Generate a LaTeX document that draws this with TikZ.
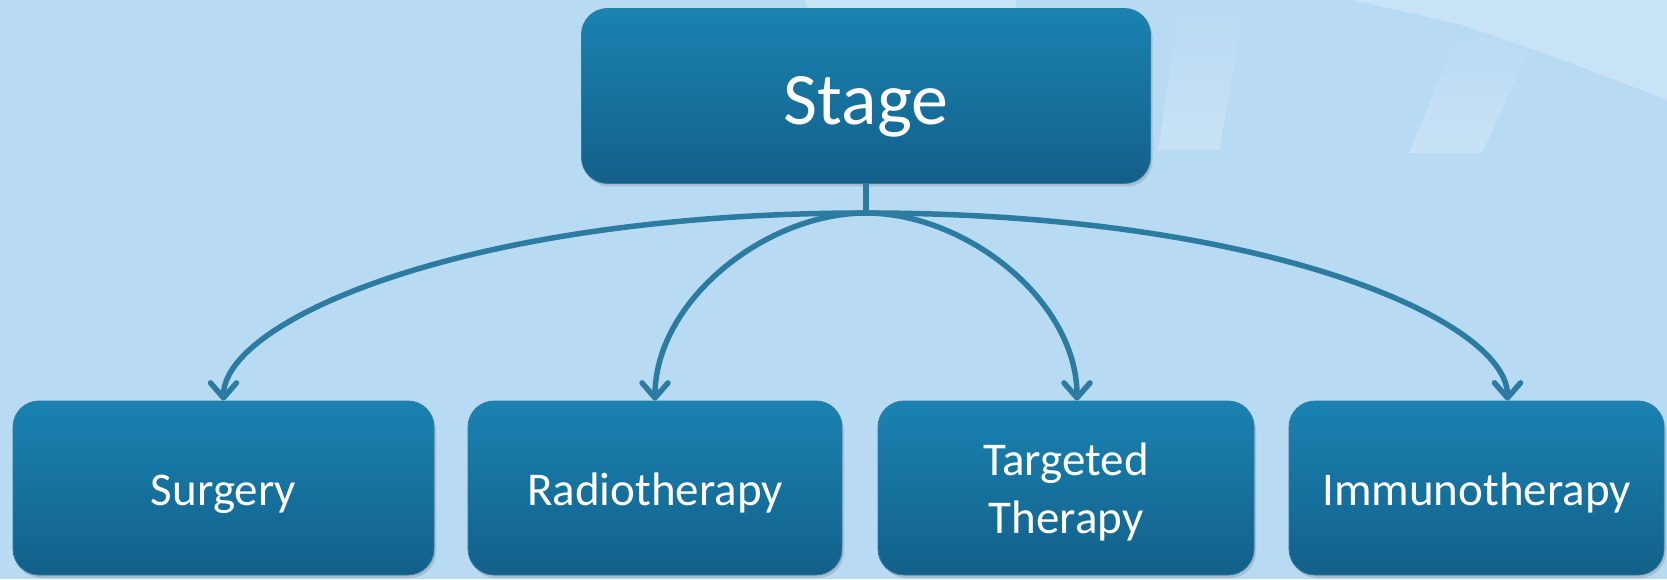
\documentclass[tikz,border=0pt]{standalone}
\usepackage{fontspec}
\setmainfont{Carlito}
\usetikzlibrary{arrows.meta,shadows,fadings}
\definecolor{bgc}{HTML}{B8DAF3}
\definecolor{boxtop}{HTML}{1A82B1}
\definecolor{boxbot}{HTML}{13608A}
\definecolor{linec}{HTML}{2C7CA1}
\tikzset{>={Straight Barb[length=15pt,width=26pt,round]}}
\tikzset{
  tbox/.style={rectangle,rounded corners=26pt,draw=linec,line width=.8pt,
    top color=boxtop,bottom color=boxbot,text=white,minimum height=174pt,
    inner sep=0pt,align=center,font=\fontsize{47}{58}\selectfont,
    text height=34pt,text depth=0pt,
    drop shadow={shadow xshift=2pt,shadow yshift=-3pt,opacity=.3}},
  link/.style={draw=linec,line width=5.5pt,->,
    preaction={draw=black,draw opacity=.12,transform canvas={xshift=1pt,yshift=-2pt}}},
  glow/.style={fill=white,fill opacity=.25,path fading=north}
}

\begin{document}
\begin{tikzpicture}[x=1pt,y=1pt]
	\fill[bgc] (0,0) rectangle (1667,579);
	\useasboundingbox (0,0) rectangle (1667,579);
	% faint marks in the background
	\fill[glow] (1181,579) -- (1246,579) -- (1219,429) -- (1158,429) -- cycle;
	\fill[glow] (1462,554) -- (1530,531) -- (1482,426) -- (1409,426) -- cycle;
	\fill[white,fill opacity=.25] (1353,579) -- (1667,579) -- (1667,479) .. controls (1600,505) .. (1530,531) -- (1462,554) -- cycle;
	\fill[white,fill opacity=.25] (805,579) -- (1017,579) -- (1015,570) -- (808,570) -- cycle;

	\node[tbox,minimum width=569pt,minimum height=175pt,font=\fontsize{74}{80}\selectfont,text height=58pt] (st) at (866,483) {Stage};
	\node[tbox,minimum width=421pt] (su) at (223.5,91) {Surgery};
	\node[tbox,minimum width=374pt] (ra) at (655,91) {Radiotherapy};
	\node[tbox,minimum width=376pt,text height=90pt] (ta) at (1066,91) {Targeted\\Therapy};
	\node[tbox,minimum width=375pt] (im) at (1476.5,91) {Immunotherapy};

	\coordinate (j) at (866,366);
	\draw[draw=linec,line width=5.5pt] (st.south) -- (j);
	\draw[link] (j) .. controls +(-400,0) and +(0,80) .. (su.north);
	\draw[link] (j) .. controls +(-100,0) and +(0,100) .. (ra.north);
	\draw[link] (j) .. controls +(100,0) and +(0,100) .. ([xshift=11pt]ta.north);
	\draw[link] (j) .. controls +(400,0) and +(0,80) .. ([xshift=31pt]im.north);
\end{tikzpicture}
\end{document}
